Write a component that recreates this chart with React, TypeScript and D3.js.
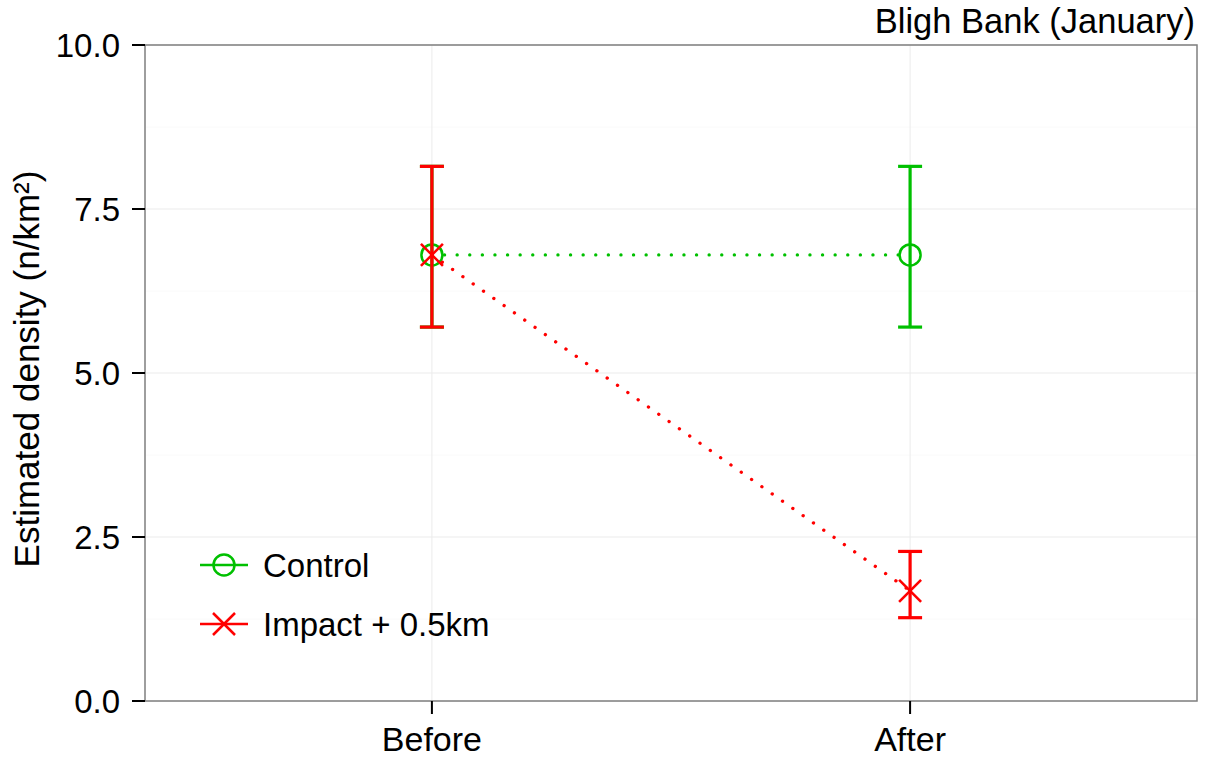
import React from "react";
import * as d3 from "d3";

const periods = ["Before", "After"];
const seriesNames = ["Control", "Impact + 0.5km"];
const seriesColors = ["#00C000", "#FF0000"];
const controlMean = [6.8, 6.8];
const controlLow = [5.7, 5.7];
const controlHigh = [8.15, 8.15];
const impactMean = [6.8, 1.68];
const impactLow = [5.7, 1.27];
const impactHigh = [8.15, 2.28];
const yTicks = [0, 2.5, 5.0, 7.5, 10.0];
const yMinor = [1.25, 3.75, 6.25, 8.75];

const W = 1217, H = 757;
const L = 145, T = 45, R = 1197, B = 701;

export default function App() {
  const y = d3.scaleLinear().domain([0, 10]).range([B, T]);
  const x = d3.scaleLinear().domain([0.4, 2.6]).range([L, R]);
  const xp = (i: number) => x(i + 1);
  const font = "Arial, 'Liberation Sans', sans-serif";
  const series = [
    { mean: controlMean, low: controlLow, high: controlHigh, color: seriesColors[0], shape: "circle" },
    { mean: impactMean, low: impactLow, high: impactHigh, color: seriesColors[1], shape: "cross" },
  ];
  const line = d3.line<number>().x((_, i) => xp(i)).y((d) => y(d));
  const capW = 12;
  const marker = (shape: string, cx: number, cy: number, color: string, key: string) =>
    shape === "circle" ? (
      <circle key={key} cx={cx} cy={cy} r={10.5} fill="none" stroke={color} strokeWidth={2.5} />
    ) : (
      <g key={key} stroke={color} strokeWidth={2.5}>
        <line x1={cx - 11} y1={cy - 11} x2={cx + 11} y2={cy + 11} />
        <line x1={cx - 11} y1={cy + 11} x2={cx + 11} y2={cy - 11} />
      </g>
    );
  return (
    <svg width={W} height={H} style={{ position: "absolute", left: 0, top: 0 }} fontFamily={font}>
      <rect x={0} y={0} width={W} height={H} fill="#fff" />
      {yMinor.map((v) => (
        <line key={"mi" + v} x1={L} x2={R} y1={y(v)} y2={y(v)} stroke="#FAFAFA" strokeWidth={1} />
      ))}
      {yTicks.map((v) => (
        <line key={"ma" + v} x1={L} x2={R} y1={y(v)} y2={y(v)} stroke="#EBEBEB" strokeWidth={1} />
      ))}
      {periods.map((p, i) => (
        <line key={"vx" + p} x1={xp(i)} x2={xp(i)} y1={T} y2={B} stroke="#EBEBEB" strokeWidth={1} />
      ))}
      {series.map((s, si) => (
        <g key={"s" + si}>
          <path d={line(s.mean) || ""} fill="none" stroke={s.color} strokeWidth={3.3}
            strokeDasharray="0.1 12.5" strokeLinecap="round" />
          {s.mean.map((m, i) => (
            <g key={"e" + i} stroke={s.color} strokeWidth={3.2}>
              <line x1={xp(i)} x2={xp(i)} y1={y(s.low[i])} y2={y(s.high[i])} />
              <line x1={xp(i) - capW} x2={xp(i) + capW} y1={y(s.low[i])} y2={y(s.low[i])} />
              <line x1={xp(i) - capW} x2={xp(i) + capW} y1={y(s.high[i])} y2={y(s.high[i])} />
            </g>
          ))}
          {s.mean.map((m, i) => marker(s.shape, xp(i), y(m), s.color, "m" + i))}
        </g>
      ))}
      <rect x={L} y={T} width={R - L} height={B - T} fill="none" stroke="#7F7F7F" strokeWidth={1.5} />
      {yTicks.map((v) => (
        <g key={"yt" + v}>
          <line x1={L - 13} x2={L} y1={y(v)} y2={y(v)} stroke="#000" strokeWidth={2} />
          <text x={L - 25} y={y(v)} dy="0.36em" textAnchor="end" fontSize={33} fill="#000">
            {v.toFixed(1)}
          </text>
        </g>
      ))}
      {periods.map((p, i) => (
        <g key={"xt" + p}>
          <line x1={xp(i)} x2={xp(i)} y1={B} y2={B + 13} stroke="#000" strokeWidth={2} />
          <text x={xp(i)} y={751} textAnchor="middle" fontSize={34} fill="#000">{p}</text>
        </g>
      ))}
      <text transform={`translate(39, 369) rotate(-90)`} textAnchor="middle" fontSize={35} fill="#000">
        Estimated density (n/km²)
      </text>
      <text x={1195} y={33} textAnchor="end" fontSize={34.5} fill="#000">Bligh Bank (January)</text>
      {seriesNames.map((n, i) => {
        const ly = 565 + i * 59;
        return (
          <g key={"lg" + i}>
            <line x1={200} x2={248} y1={ly} y2={ly} stroke={series[i].color} strokeWidth={2.5} />
            {marker(series[i].shape, 224, ly, series[i].color, "lm" + i)}
            <text x={263} y={ly} dy="0.36em" fontSize={33} fill="#000">{n}</text>
          </g>
        );
      })}
    </svg>
  );
}
